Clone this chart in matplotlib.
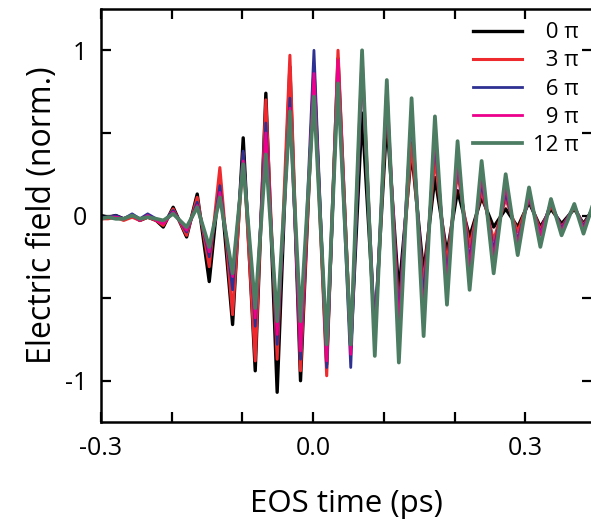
import numpy as np
import matplotlib
matplotlib.use("Agg")
import matplotlib.pyplot as plt

plt.rcParams['font.family'] = ['Open Sans', 'DejaVu Sans']

# EOS time (ps) of the sampled points (extrema of the traces)
time_ps = [-0.300, -0.290, -0.279, -0.268, -0.256, -0.245, -0.234, -0.222,
           -0.212, -0.198, -0.179, -0.164, -0.147, -0.132, -0.114, -0.099,
           -0.082, -0.067, -0.051, -0.033, -0.018, 0.001, 0.019, 0.035,
           0.053, 0.069, 0.087, 0.104, 0.121, 0.139, 0.156, 0.172,
           0.189, 0.204, 0.221, 0.238, 0.255, 0.272, 0.289, 0.305,
           0.321, 0.336, 0.351, 0.369, 0.382, 0.394]

field_0pi = [0.00, -0.01, 0.00, -0.02, 0.00, -0.03, -0.01, -0.03,
             -0.07, 0.05, -0.13, 0.13, -0.40, 0.23, -0.66, 0.47,
             -0.94, 0.74, -1.07, 0.90, -1.00, 0.88, -0.90, 0.95,
             -0.80, 0.62, -0.70, 0.58, -0.47, 0.39, -0.35, 0.23,
             -0.23, 0.15, -0.13, 0.11, -0.07, 0.04, -0.07, 0.08,
             -0.07, 0.04, -0.05, 0.04, -0.05, 0.03]
field_3pi = [-0.02, -0.02, -0.01, -0.03, -0.01, -0.03, -0.01, -0.03,
             -0.06, 0.04, -0.12, 0.11, -0.31, 0.29, -0.60, 0.38,
             -0.88, 0.70, -0.87, 0.97, -0.94, 0.84, -0.97, 1.00,
             -0.80, 0.96, -0.76, 0.70, -0.60, 0.44, -0.43, 0.35,
             -0.30, 0.26, -0.19, 0.15, -0.15, 0.10, -0.10, 0.10,
             -0.09, 0.06, -0.07, 0.05, -0.06, 0.03]
field_6pi = [-0.01, -0.01, 0.00, -0.02, 0.01, -0.02, 0.01, -0.02,
             -0.04, 0.03, -0.10, 0.08, -0.25, 0.18, -0.45, 0.39,
             -0.67, 0.56, -0.78, 0.71, -0.87, 1.00, -0.92, 0.86,
             -0.92, 0.91, -0.70, 0.72, -0.64, 0.60, -0.52, 0.46,
             -0.38, 0.32, -0.27, 0.20, -0.21, 0.14, -0.15, 0.11,
             -0.11, 0.08, -0.08, 0.06, -0.07, 0.04]
field_9pi = [-0.02, -0.01, -0.01, -0.02, 0.00, -0.03, 0.00, -0.03,
             -0.05, 0.02, -0.09, 0.06, -0.22, 0.14, -0.37, 0.33,
             -0.62, 0.50, -0.72, 0.65, -0.82, 0.86, -0.88, 0.94,
             -0.84, 0.93, -0.78, 0.79, -0.70, 0.65, -0.60, 0.50,
             -0.42, 0.33, -0.31, 0.23, -0.25, 0.17, -0.17, 0.12,
             -0.12, 0.08, -0.09, 0.06, -0.08, 0.04]
field_12pi = [-0.02, -0.01, -0.02, -0.02, 0.00, -0.02, -0.01, -0.02,
              -0.03, 0.01, -0.07, 0.05, -0.19, 0.11, -0.35, 0.31,
              -0.56, 0.37, -0.64, 0.63, -0.64, 0.72, -0.78, 0.80,
              -0.78, 1.00, -0.85, 0.82, -0.89, 0.71, -0.73, 0.60,
              -0.54, 0.45, -0.45, 0.33, -0.35, 0.25, -0.24, 0.17,
              -0.19, 0.10, -0.12, 0.07, -0.11, 0.05]

series = [field_0pi, field_3pi, field_6pi, field_9pi, field_12pi]
labels = ['\u20070 \u03c0', '\u20073 \u03c0', '\u20076 \u03c0', '\u20079 \u03c0', '12 \u03c0']
colors = ['#000000', '#ee2a2e', '#2e3192', '#ec008c', '#4c7c62']
widths = [2.4, 2.2, 2.0, 2.0, 2.7]

x_ticks = [-0.3, -0.2, -0.1, 0.0, 0.1, 0.2, 0.3]
x_ticklabels = ['-0.3', '', '', '0.0', '', '', '0.3']
y_ticks = [-1, -0.5, 0, 0.5, 1]
y_ticklabels = ['-1', '', '0', '', '1']

fig = plt.figure(figsize=(5.91, 5.23), dpi=100)
ax = fig.add_axes([101 / 591, 101 / 523, 491 / 591, 413 / 523])

for vals, lab, c, lw in zip(series, labels, colors, widths):
    ax.plot(time_ps, vals, color=c, lw=lw, label=lab)

ax.set_xlim(-0.3, 0.394)
ax.set_ylim(-1.25, 1.25)
ax.set_xticks(x_ticks)
ax.set_xticklabels(x_ticklabels)
ax.set_yticks(y_ticks)
ax.set_yticklabels(y_ticklabels)
ax.tick_params(direction='in', length=7, width=1.6, labelsize=18,
               top=True, right=True, pad=10)
for sp in ax.spines.values():
    sp.set_linewidth(1.8)

ax.set_xlabel('EOS time (ps)', fontsize=22.5, labelpad=20)
ax.set_ylabel('Electric field (norm.)', fontsize=23, labelpad=4)

leg = ax.legend(loc='upper right', frameon=False, fontsize=16,
                handlelength=2.2, handletextpad=0.5, labelspacing=0.32,
                borderaxespad=0.2, bbox_to_anchor=(1.0, 1.0))

fig.savefig('out.png', dpi=100)
